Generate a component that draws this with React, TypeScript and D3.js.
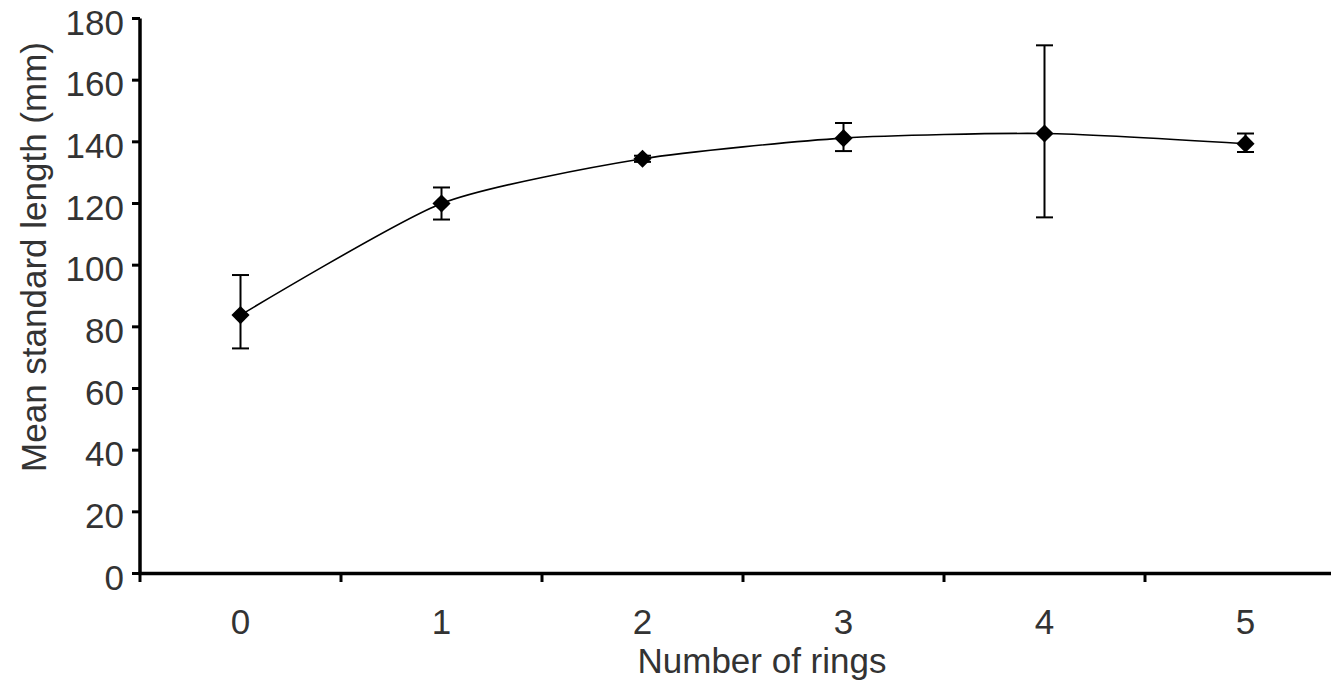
import React from "react";
import * as d3 from "d3";

const categories = ["0", "1", "2", "3", "4", "5"];
const meanLength = [83.8, 120.0, 134.5, 141.2, 142.7, 139.4];
const errUpper = [96.8, 125.2, 135.5, 146.1, 171.3, 142.7];
const errLower = [73.0, 114.8, 133.5, 137.0, 115.5, 136.7];
const yTicks = [0, 20, 40, 60, 80, 100, 120, 140, 160, 180];

const W = 1331;
const H = 689;
const FONT = "'Liberation Sans', Arial, sans-serif";

export default function App() {
  const x = d3.scaleBand<string>().domain(categories).range([140, 1346]).padding(0);
  const y = d3.scaleLinear().domain([0, 180]).range([573.5, 18.5]);
  const cx = (c: string) => (x(c) ?? 0) + x.bandwidth() / 2;

  const pts = categories.map((c, i) => [cx(c), y(meanLength[i])] as [number, number]);
  const line = d3.line().curve(d3.curveCardinal.tension(0.35))(pts) ?? "";
  const diamond = d3.symbol().type(d3.symbolSquare).size(165)() ?? "";

  const xTickPos = categories.map((c) => x(c) ?? 0).concat([(x(categories[5]) ?? 0) + x.bandwidth()]);

  return (
    <svg width={W} height={H} style={{ position: "absolute", left: 0, top: 0, background: "#fff" }} fontFamily={FONT}>
      <rect width={W} height={H} fill="#fff" />
      {yTicks.map((t) => (
        <g key={t}>
          <line x1={132} x2={140} y1={y(t)} y2={y(t)} stroke="#000" strokeWidth={3} />
          <text x={124} y={y(t) + 16} textAnchor="end" fontSize={35} fill="#333">
            {t}
          </text>
        </g>
      ))}
      {xTickPos.map((p, i) => (
        <line key={i} x1={p} x2={p} y1={573.5} y2={582} stroke="#000" strokeWidth={3} />
      ))}
      {categories.map((c) => (
        <text key={c} x={cx(c)} y={634} textAnchor="middle" fontSize={35} fill="#333">
          {c}
        </text>
      ))}
      <line x1={140} x2={140} y1={y(180)} y2={575} stroke="#000" strokeWidth={3.5} />
      <line x1={138.5} x2={W} y1={573.5} y2={573.5} stroke="#000" strokeWidth={3.5} />
      <path d={line} fill="none" stroke="#000" strokeWidth={1.6} />
      {categories.map((c, i) => (
        <g key={c}>
          <line x1={cx(c)} x2={cx(c)} y1={y(errUpper[i])} y2={y(errLower[i])} stroke="#000" strokeWidth={2} />
          <line x1={cx(c) - 8.5} x2={cx(c) + 8.5} y1={y(errUpper[i])} y2={y(errUpper[i])} stroke="#000" strokeWidth={2} />
          <line x1={cx(c) - 8.5} x2={cx(c) + 8.5} y1={y(errLower[i])} y2={y(errLower[i])} stroke="#000" strokeWidth={2} />
        </g>
      ))}
      {pts.map((p, i) => (
        <path key={i} d={diamond} transform={`translate(${p[0]},${p[1]}) rotate(45)`} fill="#000" />
      ))}
      <text x={762} y={673} textAnchor="middle" fontSize={35} fill="#333">
        Number of rings
      </text>
      <text transform="translate(46,257) rotate(-90)" textAnchor="middle" fontSize={35} fill="#333">
        Mean standard length (mm)
      </text>
    </svg>
  );
}
